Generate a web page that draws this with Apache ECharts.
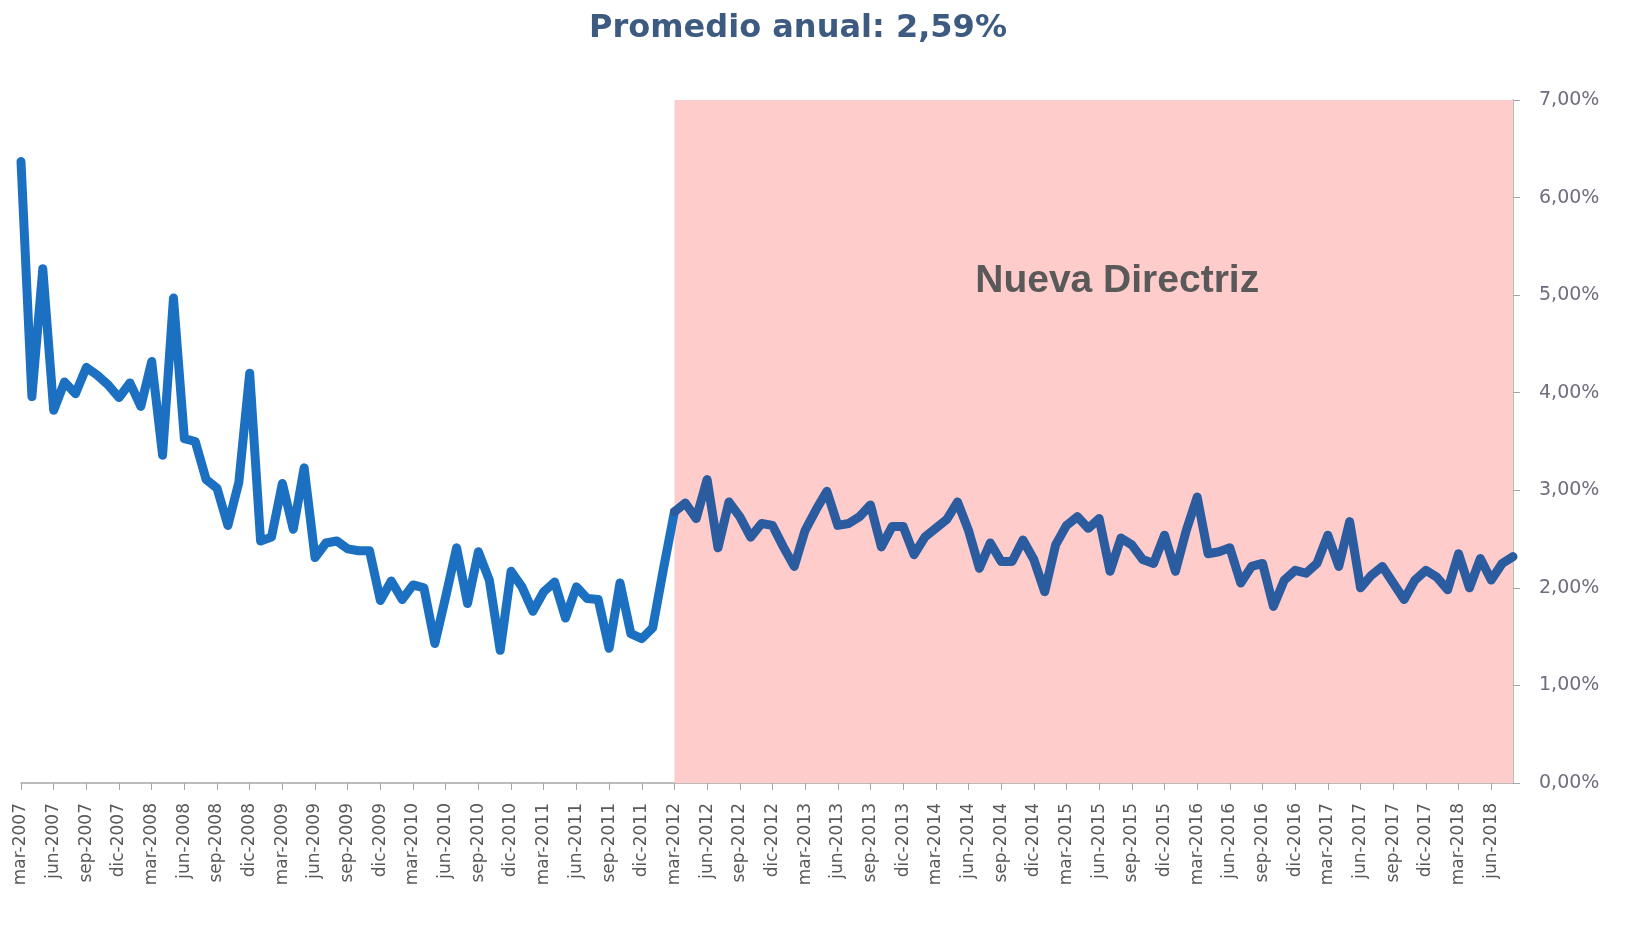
<!DOCTYPE html>
<html>
<head>
<meta charset="utf-8">
<script src="https://cdn.jsdelivr.net/npm/echarts@6/dist/echarts.min.js"></script>
<style>
  html, body { margin: 0; padding: 0; background: #fff; }
  #chart { width: 1638px; height: 929px; }
</style>
</head>
<body>
<div id="chart"></div>
<script>
// meses (etiquetas del eje x), de mar-2007 a ago-2018
const monthNames = ["ene", "feb", "mar", "abr", "may", "jun", "jul", "ago", "sep", "oct", "nov", "dic"];
const startYear = 2007;
const startMonth = 2; // mar
const nMonths = 138;

const categories = [];
for (let i = 0; i < nMonths; i++) {
  const m = (startMonth + i) % 12;
  const y = startYear + Math.floor((startMonth + i) / 12);
  categories.push(monthNames[m] + "-" + y);
}

// valores en %
const rates2007 = [6.37, 3.96, 5.27, 3.82, 4.11, 3.99, 4.26, 4.18, 4.08, 3.95];
const rates2008 = [4.10, 3.86, 4.32, 3.36, 4.97, 3.53, 3.50, 3.11, 3.02, 2.64, 3.08, 4.20];
const rates2009 = [2.48, 2.52, 3.07, 2.60, 3.23, 2.31, 2.46, 2.48, 2.40, 2.38, 2.38, 1.87];
const rates2010 = [2.07, 1.88, 2.03, 2.00, 1.43, 1.91, 2.41, 1.84, 2.37, 2.08, 1.36, 2.17];
const rates2011 = [2.01, 1.76, 1.96, 2.06, 1.69, 2.01, 1.89, 1.88, 1.38, 2.05, 1.53, 1.48];
const rates2012 = [1.59, 2.20, 2.78, 2.87, 2.71, 3.11, 2.41, 2.88, 2.73, 2.52, 2.66, 2.64];
const rates2013 = [2.42, 2.22, 2.59, 2.80, 2.99, 2.64, 2.66, 2.73, 2.85, 2.42, 2.63, 2.63];
const rates2014 = [2.34, 2.52, 2.61, 2.70, 2.88, 2.59, 2.20, 2.46, 2.27, 2.27, 2.49, 2.29];
const rates2015 = [1.96, 2.44, 2.64, 2.73, 2.61, 2.71, 2.17, 2.51, 2.44, 2.29, 2.25, 2.54];
const rates2016 = [2.17, 2.59, 2.93, 2.35, 2.37, 2.41, 2.05, 2.22, 2.25, 1.81, 2.08, 2.18];
const rates2017 = [2.15, 2.25, 2.54, 2.22, 2.68, 2.00, 2.13, 2.22, 2.05, 1.88, 2.08, 2.18];
const rates2018 = [2.11, 1.98, 2.35, 2.00, 2.30, 2.08, 2.25, 2.32];

const rates = [].concat(rates2007, rates2008, rates2009, rates2010, rates2011, rates2012,
  rates2013, rates2014, rates2015, rates2016, rates2017, rates2018);

const yTicks = [0, 1, 2, 3, 4, 5, 6, 7];
const directrizStart = "mar-2012";
const startIdx = categories.indexOf(directrizStart);

// antes / despues de la nueva directriz (el punto de corte va en ambos)
const ratesBefore = rates.map((v, i) => (i <= startIdx ? v : null));
const ratesAfter = rates.map((v, i) => (i >= startIdx ? v : null));

const lineBase = {
  type: "line",
  showSymbol: false,
  connectNulls: false,
  z: 3,
};

const chart = echarts.init(document.getElementById("chart"));
chart.setOption({
  backgroundColor: "#ffffff",
  animation: false,
  title: {
    text: "Promedio anual: 2,59%",
    left: 584,
    top: 8,
    textStyle: { fontFamily: "DejaVu Sans", fontWeight: "bold", fontSize: 32, color: "#3d5a80" },
  },
  grid: { left: 21, right: 125, top: 100, bottom: 146 },
  xAxis: {
    type: "category",
    boundaryGap: false,
    data: categories,
    axisLine: { lineStyle: { color: "#a6a6a6", width: 1.5 } },
    axisTick: { interval: 2, length: 7, lineStyle: { color: "#a6a6a6" } },
    axisLabel: {
      interval: 2,
      rotate: 90,
      margin: 20,
      fontFamily: "DejaVu Sans",
      fontSize: 17,
      color: "#595959",
    },
  },
  yAxis: {
    type: "value",
    position: "right",
    min: yTicks[0],
    max: yTicks[yTicks.length - 1],
    interval: 1,
    axisLine: { show: true, lineStyle: { color: "#a6a6a6", width: 1.5 } },
    axisTick: { show: true, length: 7, lineStyle: { color: "#a6a6a6" } },
    splitLine: { show: false },
    axisLabel: {
      margin: 26,
      fontFamily: "DejaVu Sans",
      fontSize: 19,
      color: "#6e6e7e",
      formatter: (v) => v.toFixed(2).replace(".", ",") + "%",
    },
  },
  series: [
    {
      ...lineBase,
      name: "antes",
      data: ratesBefore,
      lineStyle: { width: 9, color: "#1b70c1", join: "round", cap: "round" },
      markArea: {
        silent: true,
        itemStyle: { color: "#ffcccc" },
        label: {
          show: true,
          position: ["52.8%", "26.6%"],
          align: "center",
          verticalAlign: "middle",
          fontFamily: "Liberation Sans",
          fontWeight: "bold",
          fontSize: 39,
          color: "#595959",
        },
        data: [[{ name: "Nueva Directriz", xAxis: directrizStart }, { xAxis: categories[categories.length - 1] }]],
      },
    },
    {
      ...lineBase,
      name: "despues",
      data: ratesAfter,
      lineStyle: { width: 9, color: "#2b5c9f", join: "round", cap: "round" },
    },
  ],
});
</script>
</body>
</html>
